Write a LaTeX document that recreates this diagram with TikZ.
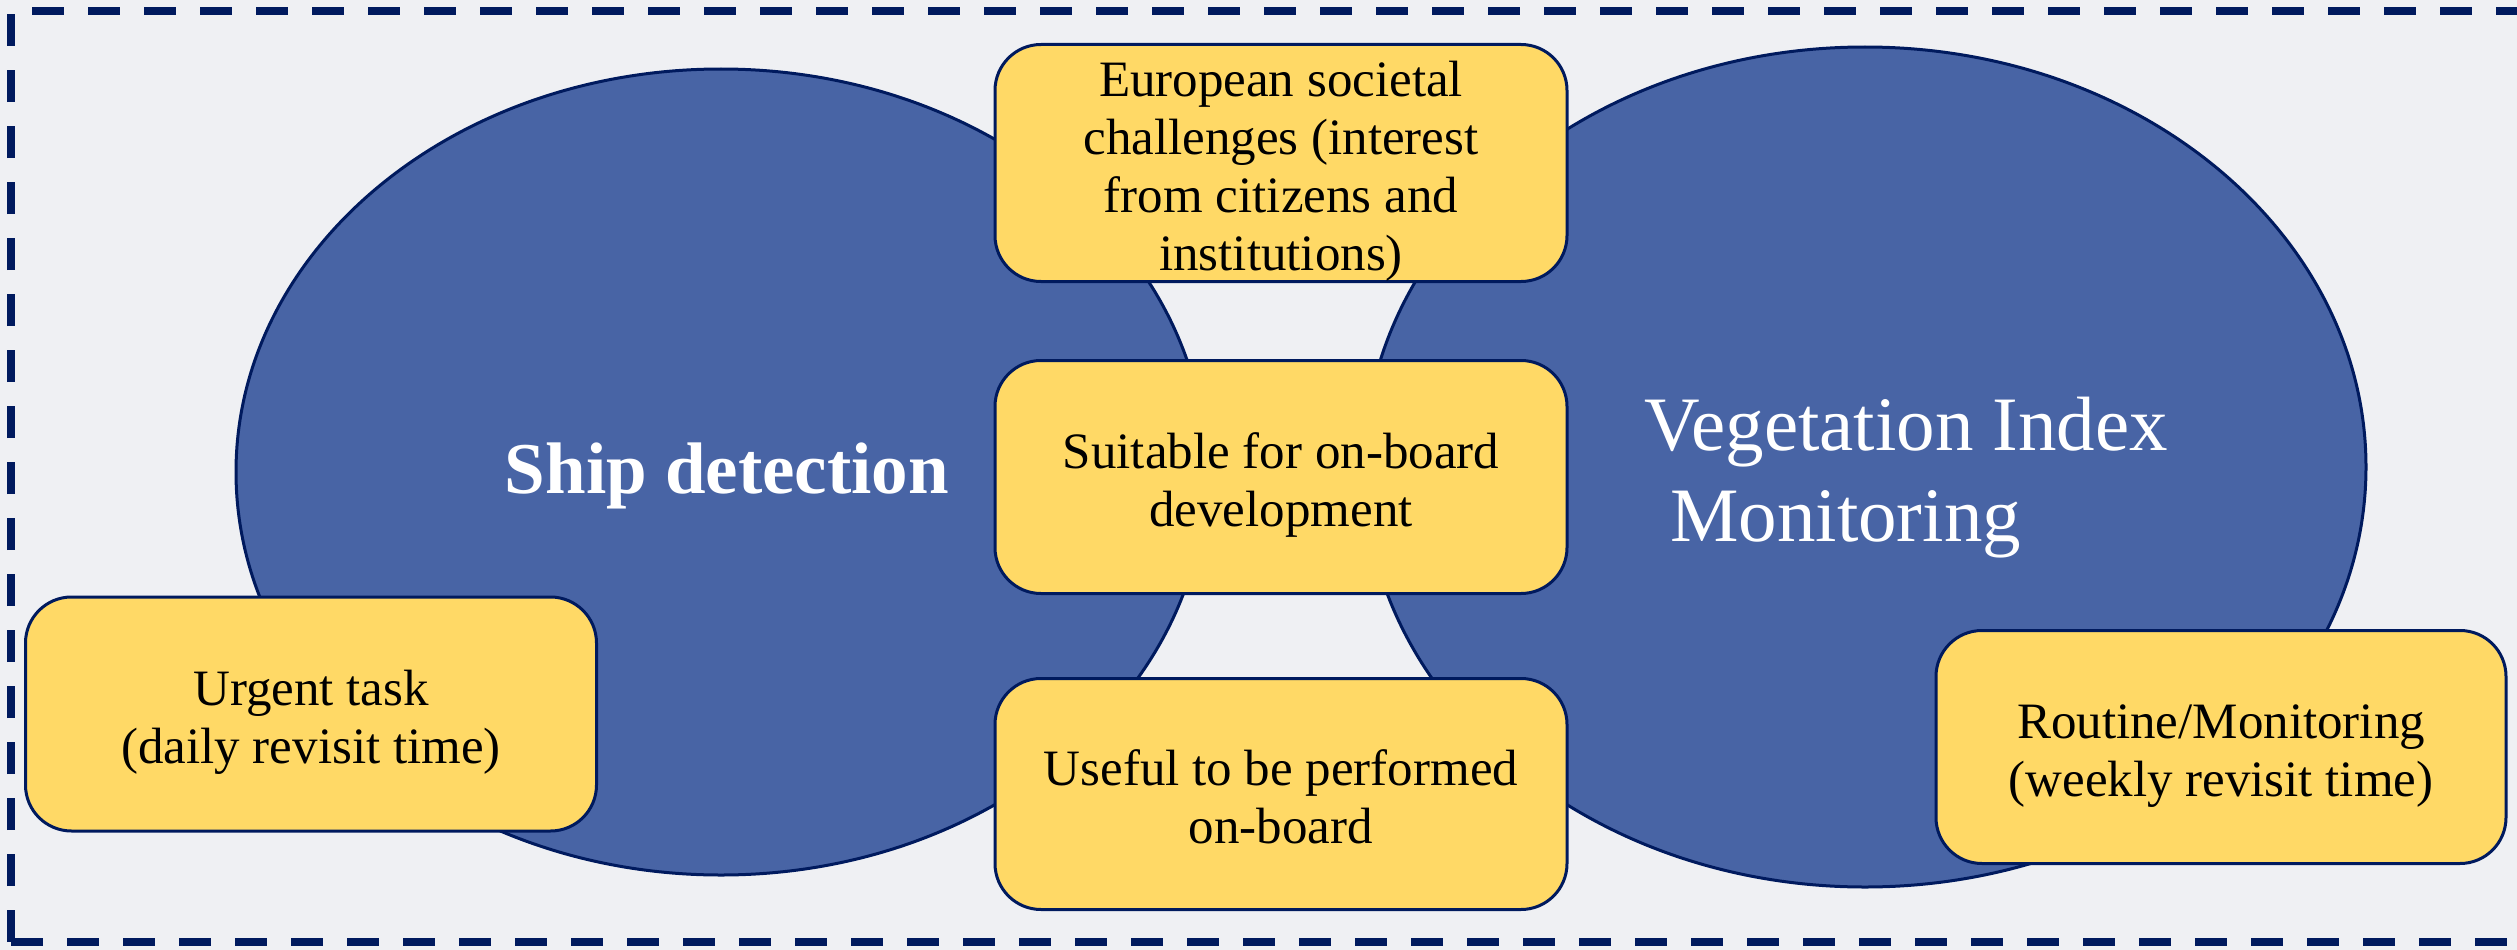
\documentclass[tikz,border=0pt]{standalone}
\usepackage{fontspec}
\setmainfont{Liberation Serif}
\usetikzlibrary{shapes.geometric}
\definecolor{navy}{RGB}{0,26,94}
\definecolor{ellblue}{RGB}{72,100,165}
\definecolor{boxyellow}{RGB}{255,217,102}
\definecolor{bgcol}{RGB}{239,240,243}
% fixed line metrics so every box centres its text block the same way
\newcommand{\firstln}{\rule{0pt}{52pt}}
\newcommand{\lastln}{\rule[-11pt]{0pt}{0pt}}
\begin{document}
\begin{tikzpicture}[x=1pt,y=-1pt,
  areaoval/.style={ellipse, draw=navy, line width=3pt, fill=ellblue, inner sep=0pt},
  infobox/.style={draw=navy, line width=3pt, fill=boxyellow, rounded corners=46pt,
    minimum width=572pt, minimum height=233pt, inner sep=0pt, align=center,
    font=\fontsize{51}{58}\selectfont},
  bigwhite/.style={text=white, inner sep=0pt},
  frameline/.style={draw=navy, line width=8pt, dash pattern=on 32pt off 24pt}]
  \useasboundingbox (0,0) rectangle (2517,950);
  \clip (0,0) rectangle (2517,950);
  \fill[bgcol] (0,0) rectangle (2517,950);

  % dashed frame, open on the right where it runs past the edge
  \draw[frameline] (11,942) -- (11,11) -- (2560,11);
  \draw[frameline] (11,942) -- (2560,942);

  % the two application areas
  \node[areaoval, minimum width=970pt, minimum height=806pt] (ship) at (721,472) {};
  \node[areaoval, minimum width=1002pt, minimum height=840pt] (veg) at (1865,467) {};

  \node[bigwhite, anchor=base, font=\fontsize{73}{86}\selectfont\bfseries] (shiplbl) at (727,493) {Ship detection};
  \node[bigwhite, anchor=base west, font=\fontsize{77}{90}\selectfont] (veglblA) at (1644,450) {Vegetation Index};
  \node[bigwhite, anchor=base west, font=\fontsize{77}{90}\selectfont] (veglblB) at (1670,541) {Monitoring};

  % shared criteria in the middle
  \node[infobox, minimum height=236pt] (societal) at (1281,163)
    {\firstln European societal\\challenges (interest\\from citizens and\\institutions)\lastln};
  \node[infobox] (suitable) at (1281,477)
    {\firstln Suitable for on-board\\development\lastln};
  \node[infobox, minimum height=231pt] (useful) at (1281,794)
    {\firstln Useful to be performed\\on-board\lastln};

  % revisit requirements
  \node[infobox, minimum width=571pt, minimum height=234pt] (urgent) at (311,714)
    {\firstln Urgent task\\(daily revisit time)\lastln};
  \node[infobox, minimum width=570pt] (routine) at (2221,747)
    {\firstln Routine/Monitoring\\(weekly revisit time)\lastln};
\end{tikzpicture}
\end{document}
